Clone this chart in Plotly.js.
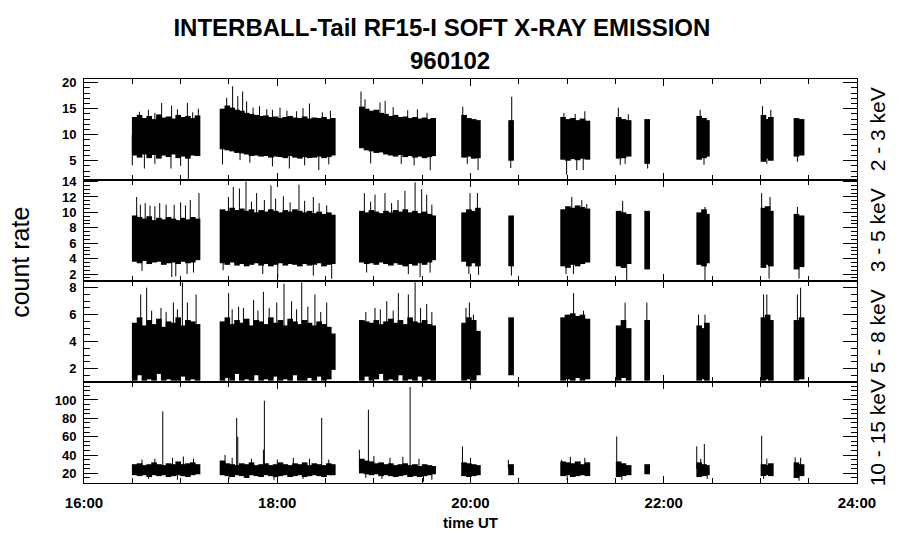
<!DOCTYPE html>
<html><head><meta charset="utf-8">
<script src="https://cdn.plot.ly/plotly-3.0.1.min.js"></script>
<style>html,body{margin:0;padding:0;background:#fff}#chart{width:900px;height:548px}</style>
</head><body><div id="chart"></div>
<script>
// time of each 3-minute bin, minutes after 16:00 UT
const binTime = [31.5,34.5,37.5,40.5,43.5,46.5,49.5,52.5,55.5,58.5,61.5,64.5,67.5,70.5,
  86,89,92,95,98,101,104,107,110,113,116,119,122,125,128,131,134,137,140,143,146,149,152,154.5,
  172.5,175.5,178.5,181.5,184.5,187.5,190.5,193.5,196.5,199.5,202.5,205.5,208.5,211.5,214.5,216.8,
  236,239,242,244.6, 265.2, 297.5,300.5,303.5,306.5,309.5,312.6, 332,335,338.2, 349.7,
  382,385,386.8, 421.9,424.5,426.5, 442.4,445.6];

// 2 - 3 keV : upper / lower envelope of each bin
const hi23 = [13.4,13.8,13.2,13.6,13.0,13.9,13.3,13.5,13.1,13.8,13.4,13.6,13.2,13.7,
  15.0,15.6,15.2,14.8,14.6,14.2,14.0,13.8,13.6,13.7,13.4,13.5,13.2,13.4,13.6,13.3,13.2,13.5,13.1,13.3,13.2,13.4,13.0,13.2,
  15.4,15.0,14.6,14.8,14.2,14.0,13.6,13.8,13.4,13.5,13.2,13.4,13.1,13.3,13.0,13.2,
  13.8,13.2,13.0,12.8, 12.8, 13.4,13.0,13.2,12.8,13.1,12.7, 13.4,13.0,12.8, 13.0,
  13.6,13.2,12.8, 13.8,13.0,13.4, 13.2,13.0];
const lo23 = [6.0,5.6,6.2,5.5,6.1,5.4,6.0,5.7,6.2,5.5,5.8,5.4,6.0,5.9,
  7.2,7.0,6.8,6.5,6.4,6.2,5.9,6.0,5.8,5.9,5.6,5.8,5.7,5.5,5.9,5.6,5.4,5.7,5.5,5.6,5.8,5.5,5.7,6.0,
  7.4,7.0,6.8,6.5,6.6,6.2,6.0,5.8,6.1,5.7,5.9,5.6,5.8,5.5,5.7,5.9,
  5.6,5.8,5.4,5.5, 5.0, 5.2,5.0,5.3,5.1,5.4,5.2, 5.4,5.5,5.8, 4.4,
  5.2,5.5,5.8, 4.8,5.4,5.0, 5.8,6.0];
const level23 = 10;
const spikeT23 = [34.4,48.2,54.4,64.2,67.5,88.6,92.3,95.5,98.5,101,105,113.5,121.7,132,140,172,174.5,183.8,187,235.2,265.6,331.8,382.6,421.3,426.5,
  40,44,58,71,109,117,126,136,148,153,192,201,207,213,298,305,311,338,
  30,37.5,54,64.8,96.9,127.5,145.8,197,215,244.7,265,299.7,306,310,333,350,385,424,
  44,60,86,103,117,137,152,178,205,238,336,443];
const spikeV23 = [14.4,16.1,15.6,16.1,14.3,17.1,19.3,17.4,18.3,16.4,15.2,14.9,15.2,14.5,16.0,18.3,16.8,16.2,16.5,15.4,17.3,15.2,14.8,15.5,14.8,
  14.8,14.2,14.9,15.0,15.5,14.8,14.6,15.1,14.3,14.6,15.3,14.7,14.9,14.2,14.2,14.0,14.5,13.9,
  4.1,3.5,3.5,1.5,5.1,3.5,3.2,4.4,3.2,3.2,3.6,2.3,3.2,3.2,4.2,3.5,4.2,4.4,
  4.4,4.0,4.3,4.6,3.9,4.1,4.3,4.5,4.1,4.4,4.4,4.8];

// 3 - 5 keV
const hi35 = [9.6,9.4,9.2,9.5,9.0,9.3,9.1,9.4,9.2,9.0,9.3,9.1,9.4,9.2,
  10.4,10.2,10.6,10.3,10.5,10.2,10.4,10.0,10.3,10.1,10.4,10.2,10.0,10.3,10.1,10.4,10.2,10.0,10.2,9.9,10.1,9.8,10.0,9.7,
  10.2,10.0,10.3,10.1,9.9,10.2,10.0,10.3,10.1,10.4,10.0,10.2,9.9,10.1,9.8,9.6,
  10.0,10.4,10.2,10.6, 9.6, 10.4,10.8,10.6,10.9,10.7,10.5, 10.2,10.0,9.8, 10.2,
  10.0,10.4,9.8, 10.6,10.8,10.2, 9.8,9.6];
const lo35 = [3.6,3.4,3.7,3.3,3.5,3.6,3.2,3.4,3.5,3.3,3.6,3.4,3.5,3.8,
  3.4,3.2,3.5,3.1,3.3,3.0,3.2,3.4,3.1,3.3,3.0,3.2,3.4,3.1,3.3,3.2,3.0,3.3,3.1,3.2,3.4,3.0,3.2,3.3,
  3.5,3.3,3.4,3.2,3.5,3.3,3.1,3.4,3.2,3.0,3.3,3.1,3.4,3.2,3.5,3.8,
  3.6,3.0,3.4,3.0, 3.0, 3.0,2.8,3.2,3.0,3.3,3.5, 3.0,2.8,3.3, 2.6,
  3.2,3.0,3.4, 2.8,3.2,3.0, 2.6,2.9];
const level35 = 6;
const spikeT35 = [32.7,38,44,51,60,66,71.4,89.7,92.7,96.5,100.6,107.2,116.1,123.8,133.5,142.4,150.7,174.1,180.7,186.9,199.3,205.6,209.7,212.8,239.7,244.3,297.7,302.9,309.1,312.2,334.5,385.6,420.8,426,443,
  35,41,47,56,63,104,112,119,128,137,146,178,191,195,216,
  36,54.5,57,64,68,86.4,111,120.3,142.4,153.8,175.5,201.4,208.7,214.9,239,245,265.4,299.3,303.9,337,385.6,425.4,444];
const spikeV35 = [12.0,11.2,10.8,11.0,11.3,11.6,12.5,12.0,13.3,13.1,14.0,12.5,13.5,12.1,13.6,12.0,10.9,12.5,12.3,12.5,12.8,13.9,13.0,12.3,12.5,12.5,10.4,12.0,11.6,11.1,11.5,10.7,12.5,12.0,10.7,
  11.0,10.9,11.2,11.0,10.9,11.4,11.6,11.8,11.3,11.5,11.2,11.4,11.2,11.6,11.0,
  2.4,1.6,1.7,2.0,2.2,2.5,2.0,1.4,1.8,1.4,2.2,2.0,1.6,2.2,2.0,1.9,1.8,2.0,2.0,1.1,1.2,1.4,1.4];

// 5 - 8 keV
const hi58 = [5.4,5.8,5.2,5.6,5.3,5.7,5.1,5.5,5.4,5.8,5.2,5.6,5.5,5.3,
  5.5,5.8,5.3,5.6,5.4,5.7,5.2,5.6,5.5,5.3,5.8,5.4,5.6,5.2,5.7,5.5,5.3,5.6,5.4,5.2,5.5,5.3,5.1,4.6,
  5.6,5.5,5.4,5.6,5.3,5.5,5.7,5.4,5.6,5.3,5.8,5.5,5.4,5.6,5.3,5.2,
  5.4,5.8,5.6,4.8, 5.8, 5.8,6.0,6.1,5.9,6.0,5.7, 5.2,5.6,5.0, 5.6,
  5.2,5.0,5.4, 5.8,6.0,5.6, 5.6,5.8];
const lo58 = [1.1,1.5,1.1,1.2,1.1,1.6,1.1,1.2,1.1,1.1,1.4,1.1,1.2,1.1,
  1.1,1.3,1.1,1.6,1.1,1.2,1.1,1.5,1.1,1.2,1.1,1.4,1.1,1.2,1.1,1.5,1.1,1.1,1.3,1.1,1.4,1.1,1.2,1.9,
  1.1,1.4,1.1,1.2,1.6,1.1,1.2,1.1,1.5,1.1,1.2,1.1,1.4,1.1,1.2,1.1,
  1.1,1.2,1.1,1.5, 1.5, 1.1,1.2,1.1,1.3,1.1,1.2, 1.1,1.3,1.1, 1.1,
  1.1,1.2,1.1, 1.1,1.2,1.1, 1.1,1.2];
const level58 = 3;
const spikeT58 = [35.2,38.9,47.8,55.5,61.1,64.2,69.6,89.8,99,105.3,111.4,119.7,124.2,128.9,135.2,143.4,150.7,180.7,188,195.2,201.4,205.6,212.8,237.2,239.3,241.8,298.8,304,310.2,336,349.5,381.6,385.6,422,424,443,445,
  42,51,58,92,96,108,115,132,139,147,175,184,192,209,216];
const spikeV58 = [7.5,8.0,6.5,6.9,8.4,6.9,7.5,7.6,6.5,7.1,7.7,6.9,8.3,7.0,8.4,7.5,6.9,6.5,7.0,7.6,7.5,8.4,6.8,6.5,6.9,6.0,6.0,7.6,6.3,6.9,6.9,6.0,6.0,7.5,7.5,7.5,8.0,
  6.3,6.2,6.4,6.4,6.6,6.3,6.5,6.4,6.6,6.2,6.2,6.4,6.3,6.5,6.2];

// 10 - 15 keV
const hi1015 = [30,31,29,30,32,30,29,31,30,33,30,31,32,30,
  34,31,30,29,31,30,32,29,30,31,29,30,32,30,29,31,30,32,29,31,30,29,31,30,
  36,34,33,31,32,30,31,29,30,31,29,30,28,30,29,28,
  32,31,30,29, 30, 33,32,31,33,30,32, 33,31,29, 30,
  32,30,29, 30,29,31, 32,30];
const lo1015 = [18,17,18,16,18,17,18,16,17,18,17,16,18,19,
  18,17,16,18,17,15,18,17,16,18,17,16,17,18,16,17,18,16,17,18,17,16,18,18,
  20,19,18,19,17,18,17,16,17,18,16,17,16,17,18,19,
  17,16,17,18, 18, 17,18,16,17,18,17, 16,17,18, 19,
  16,17,18, 17,18,17, 15,17];
const level1015 = 25;
const spikeT1015 = [48.9,61.7,87.6,94.8,95.5,111.4,112,147.6,171,176.6,202.5,235,263.5,296.6,308,330.8,380.5,385.2,420.8,441.6,
  36,44,55,68,92,104,120,130,140,152,180,190,198,208,240,302,311,383,424,445,
  40,58,90,118,136,175,185,210.8,216,300,334,387,422,444];
const spikeV1015 = [87.6,38.4,40.2,80.4,60,45.7,99.2,80.4,45.7,89.4,114.2,49.4,34.8,34.8,33,60.2,49.4,52,61,37.5,
  35,36,37,36,37,36,35,37,36,35,39,37,38,36,37,38,37,36,36,37,
  14,13,14,13,14,15,14,11,13,13,13,14,14,12];

const bandLabels = ['2 - 3 keV','3 - 5 keV','5 - 8 keV','10 - 15 keV'];
const hourLabels = {'0':'16:00','120':'18:00','240':'20:00','360':'22:00','480':'24:00'};

const FONT = 'Liberation Sans, Arial, sans-serif';
const panels = [
  {hi:hi23, lo:lo23, st:spikeT23, sv:spikeV23, lv:level23, range:[1.3,20.7], dtick:5, minor:1},
  {hi:hi35, lo:lo35, st:spikeT35, sv:spikeV35, lv:level35, range:[1.1,14.2], dtick:2, minor:0.5},
  {hi:hi58, lo:lo58, st:spikeT58, sv:spikeV58, lv:level58, range:[1.0,8.5], dtick:2, minor:0.5},
  {hi:hi1015, lo:lo1015, st:spikeT1015, sv:spikeV1015, lv:level1015, range:[9.5,119.6], dtick:20, minor:5}
];

const traces = [];
const layout = {
  width:900, height:548, paper_bgcolor:'#fff', plot_bgcolor:'#fff',
  margin:{l:84, r:43, t:79, b:65}, showlegend:false, barmode:'overlay',
  font:{family:FONT, color:'#000'},
  title:{text:'<b>INTERBALL-Tail RF15-I SOFT X-RAY EMISSION</b>',
    font:{family:FONT, size:24, color:'#000'}, x:0.491, xanchor:'center', y:1-28/548, yanchor:'middle', yref:'container'},
  annotations:[{text:'<b>960102</b>', xref:'paper', yref:'paper', x:(450-84)/773, y:(483-61)/404,
    xanchor:'center', yanchor:'middle', showarrow:false, font:{family:FONT, size:24, color:'#000'}}]
};

panels.forEach((p, i) => {
  const n = i + 1, sfx = n === 1 ? '' : String(n);
  const xa = 'x' + sfx, ya = 'y' + sfx;
  traces.push({type:'bar', x:binTime, base:p.lo, y:p.hi.map((h, k) => h - p.lo[k]), width:3.5,
    marker:{color:'#000', line:{width:0}}, xaxis:xa, yaxis:ya, hoverinfo:'skip'});
  const sx = [], sy = [];
  p.st.forEach((t, k) => { sx.push(t, t, null); sy.push(p.lv, p.sv[k], null); });
  traces.push({type:'scatter', mode:'lines', x:sx, y:sy, line:{color:'#000', width:1},
    xaxis:xa, yaxis:ya, hoverinfo:'skip', connectgaps:false});
  const top = 1 - i * 0.25, bot = top - 0.25;
  layout['xaxis' + sfx] = {
    anchor:ya, range:[0,480], tickmode:'linear', tick0:0, dtick:120, labelalias:hourLabels,
    ticks:'inside', ticklen:7, tickwidth:1, tickcolor:'#000',
    minor:{dtick:30, tick0:0, ticks:'inside', ticklen:5, tickwidth:1, tickcolor:'#000', showgrid:false},
    showline:true, linecolor:'#000', linewidth:1, mirror:'ticks', showgrid:false, zeroline:false,
    showticklabels:n === 4, ticklabelstandoff:6,
    tickfont:{family:FONT, size:15, color:'#000', weight:'bold'},
    matches: n === 1 ? undefined : 'x'
  };
  if (n === 4) layout['xaxis' + sfx].title = {text:'<b>time UT</b>', font:{family:FONT, size:15, color:'#000'}, standoff:7};
  layout['yaxis' + sfx] = {
    anchor:xa, domain:[bot, top], range:p.range, tickmode:'linear', tick0:0, dtick:p.dtick,
    ticks:'inside', ticklen:14, tickwidth:1, tickcolor:'#000',
    minor:{dtick:p.minor, tick0:0, ticks:'inside', ticklen:6, tickwidth:1, tickcolor:'#000', showgrid:false},
    showline:true, linecolor:'#000', linewidth:1, mirror:'ticks', showgrid:false, zeroline:false,
    ticklabelstandoff:4, tickfont:{family:FONT, size:13, color:'#000', weight:'bold'}
  };
  layout.annotations.push({text:bandLabels[i], xref:'paper', yref:'paper', x:1.027, y:(bot + top) / 2,
    xanchor:'center', yanchor:'middle', textangle:-90, showarrow:false,
    font:{family:FONT, size:21, color:'#000'}});
});
layout.annotations.push({text:'count rate', xref:'paper', yref:'paper', x:-0.083, y:0.547,
  xanchor:'center', yanchor:'middle', textangle:-90, showarrow:false, font:{family:FONT, size:25, color:'#000'}});

Plotly.newPlot('chart', traces, layout, {staticPlot:true, displayModeBar:false});
</script></body></html>
